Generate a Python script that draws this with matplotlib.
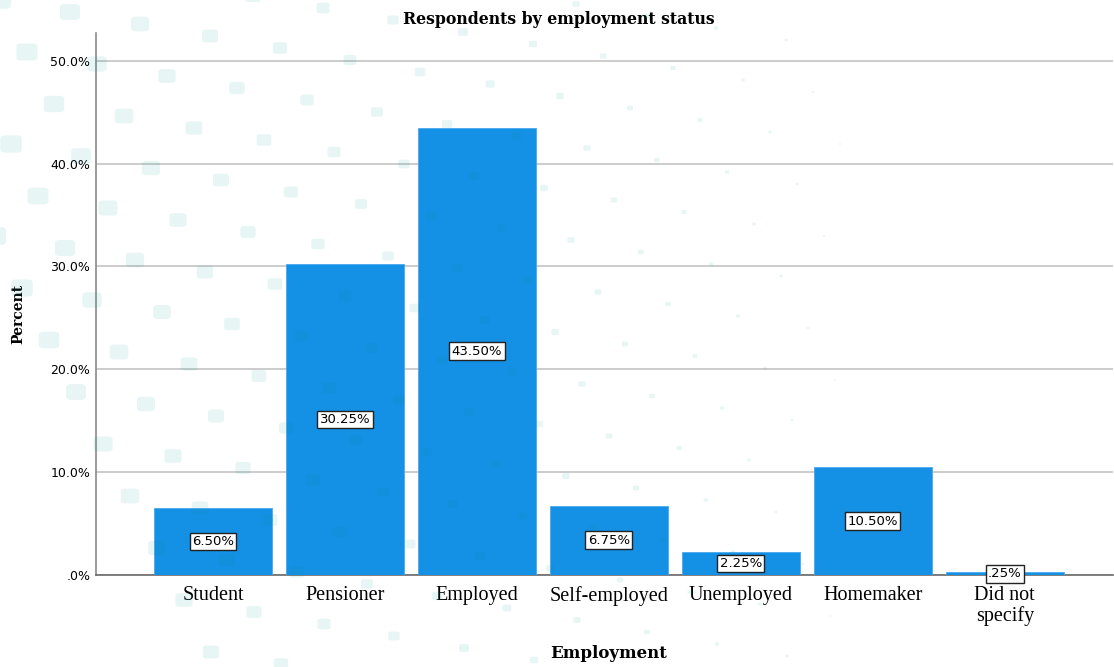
import numpy as np
import matplotlib
matplotlib.use("Agg")
import matplotlib.pyplot as plt
from matplotlib.patches import FancyBboxPatch
from matplotlib.ticker import FuncFormatter

categories = ["Student", "Pensioner", "Employed", "Self-employed",
              "Unemployed", "Homemaker", "Did not\nspecify"]
percent = [6.50, 30.25, 43.50, 6.75, 2.25, 10.50, 0.25]
yticks = [0, 10, 20, 30, 40, 50]

BAR = "#1490e4"
SERIF = ["Liberation Serif", "DejaVu Serif"]
BOLD_SERIF = ["DejaVu Serif"]
SANS = ["DejaVu Sans"]

W, H = 1114, 667
fig = plt.figure(figsize=(W / 100, H / 100), dpi=100)
fig.patch.set_facecolor("white")
ax = fig.add_axes([96 / W, 1 - 575 / H, (1113 - 96) / W, (575 - 33) / H])
ax.set_facecolor("none")

x = np.arange(len(categories))
ax.bar(x, percent, width=0.894, color=BAR, edgecolor="#4aa8ec",
       linewidth=0.6, zorder=3)

ax.set_xlim(-0.886, len(categories) - 1 + 0.82)
ax.set_ylim(0, 52.7)
ax.set_yticks(yticks)


def pct_fmt(v, _):
    s = f"{v:.1f}%"
    return s[1:] if s.startswith("0") else s


ax.yaxis.set_major_formatter(FuncFormatter(pct_fmt))
ax.grid(axis="y", color="#c4c4c4", linewidth=1.2, zorder=1)
ax.set_xticks(x)
ax.set_xticklabels(categories, fontfamily=SERIF, fontsize=14.5,
                   linespacing=1.05)
for lbl in ax.get_yticklabels():
    lbl.set_fontfamily(SANS)
    lbl.set_fontsize(9)
ax.tick_params(axis="x", length=0, pad=8)
ax.tick_params(axis="y", length=0, pad=4)

for s in ("top", "right"):
    ax.spines[s].set_visible(False)
ax.spines["left"].set_color("#8a8a8a")
ax.spines["left"].set_linewidth(1.2)
ax.spines["bottom"].set_color("#6a6a6a")
ax.spines["bottom"].set_linewidth(1.2)

for xi, v in zip(x, percent):
    s = f"{v:.2f}%"
    s = s[1:] if s.startswith("0") else s
    ax.text(xi, v / 2, s, ha="center", va="center", fontsize=9.5,
            fontfamily=SANS, zorder=5,
            bbox=dict(boxstyle="square,pad=0.18", fc="white",
                      ec="#222222", lw=1.0))

fig.text(559 / W, 1 - 20 / H, "Respondents by employment status",
         ha="center", va="center", fontfamily=BOLD_SERIF, fontsize=11.3,
         fontweight="bold")
fig.text(18 / W, 1 - 314 / H, "Percent", rotation=90, ha="center",
         va="center", fontfamily=BOLD_SERIF, fontsize=10,
         fontweight="bold")
fig.text(609 / W, 1 - 653 / H, "Employment", ha="center", va="center",
         fontfamily=BOLD_SERIF, fontsize=12, fontweight="bold")

# decorative background pattern of soft rounded tiles
tiles = []
for row in range(-2, 14):
    for col in range(-2, 24):
        px = col * 70 + row * 27
        py = row * 52 + col * 12
        if not (-20 < px < W + 20 and -20 < py < H + 20):
            continue
        size = 22 * max(0.0, 1 - px / 1000) ** 1.3
        if size < 2:
            continue
        tiles.append(FancyBboxPatch(
            ((px - size / 2) / W, 1 - (py + size * 0.4) / H),
            size / W, size * 0.8 / H,
            boxstyle=f"round,pad=0,rounding_size={size * 0.25 / W}",
            transform=fig.transFigure, facecolor="#009494",
            edgecolor="none", alpha=0.09, zorder=10))
for t in tiles:
    fig.patches.append(t)

fig.savefig("out.png", dpi=100)
